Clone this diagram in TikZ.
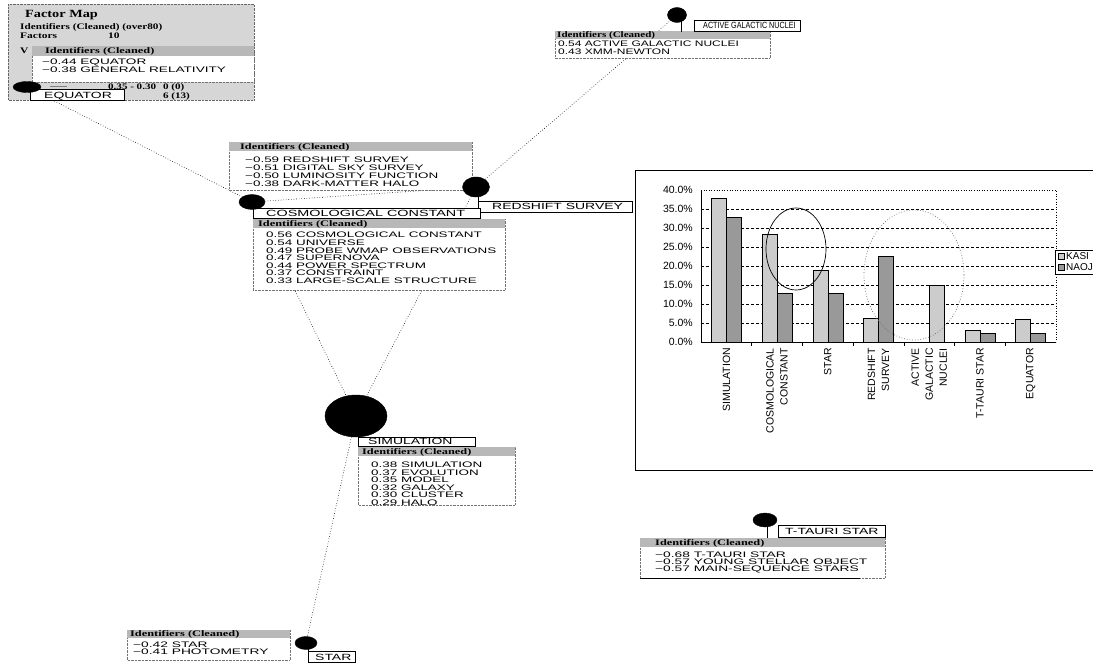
\documentclass[tikz,border=0pt]{standalone}
\usepackage{fontspec}
\setmainfont{Liberation Serif}
\setsansfont{Liberation Sans}
\usepackage{graphicx}
\usetikzlibrary{shapes.geometric}
\pgfdeclarelayer{bg}
\pgfsetlayers{bg,main}
\definecolor{hdrgray}{gray}{0.72}
\definecolor{mapgray}{gray}{0.84}
\definecolor{kasi}{gray}{0.80}
\definecolor{naoj}{gray}{0.60}
\newcommand\idt[3][6.6]{\scalebox{#2}[1]{\fontsize{8}{#1}\selectfont\sffamily\begin{tabular}[t]{@{}l@{}}#3\end{tabular}}}
\newcommand\hdt[2][1.45]{\scalebox{#1}[1]{\fontsize{8.5}{9}\selectfont\rmfamily\bfseries #2}}
\newcommand\lbt[2][1.55]{\scalebox{#1}[1]{\fontsize{9}{10}\selectfont\sffamily #2}}
\begin{document}
\begin{tikzpicture}[x=1pt,y=-1pt,
  conn/.style={dotted, line width=0.6pt},
  blob/.style={ellipse, fill=black, draw=black, inner sep=0pt},
  popbody/.style={fill=white, draw=black!55, densely dotted, line width=0.4pt},
  lframe/.style={fill=white, draw=black, line width=0.6pt},
  stem/.style={line width=0.7pt},
  txt/.style={inner sep=0pt, anchor=base west},
  ylab/.style={font=\fontsize{10.5}{12}\selectfont\sffamily, anchor=east, inner sep=0pt},
  clab/.style={font=\fontsize{10.5}{14}\selectfont\sffamily, rotate=90, anchor=east, align=right, inner sep=0pt},
  gridl/.style={dash pattern=on 3pt off 2pt, line width=0.6pt},
  barbox/.style={draw=black, line width=0.5pt},
  lgd/.style={font=\fontsize{10}{11}\selectfont\sffamily, anchor=west, inner sep=0pt}
]
\useasboundingbox (0,0) rectangle (1093,663);
\begin{pgfonlayer}{bg}
\fill[white] (0,0) rectangle (1093,663);
\end{pgfonlayer}

% ---------------- Factor map panel ----------------
\draw[fill=mapgray, draw=black!60, densely dotted] (8,4) rectangle (254,100);
\node[txt] (fmt) at (25,18) {\hdt[1.3]{\fontsize{11}{12}\selectfont Factor Map}};
\node[txt] (fmi) at (20,30) {\hdt[1.32]{Identifiers (Cleaned) (over80)}};
\node[txt] (fmf) at (20,38.5) {\hdt[1.35]{Factors}};
\node[txt] (fmn) at (108,38.5) {\hdt[1.35]{10}};
\node[txt] (fmv) at (20,54) {\hdt[1.35]{V}};
\draw[popbody] (32,46) rectangle (254,82);
\fill[hdrgray] (32,46) rectangle (254,56);
\node[txt] (fmh) at (45,54) {\hdt{Identifiers (Cleaned)}};
\node[txt] (fmd) at (42,65) {\idt[7]{1.7}{−0.44 EQUATOR\\−0.38 GENERAL RELATIVITY}};
\draw[gray, line width=1pt] (50,87) -- (67,87);
\node[txt] (fmr1) at (108,90) {\hdt[1.3]{0.35 - 0.30}};
\node[txt] (fmr2) at (163,90) {\hdt[1.3]{0 (0)}};
\node[txt] (fmr3) at (163,99) {\hdt[1.3]{6 (13)}};
\draw[lframe] (30,89) rectangle (124,100);
\node[txt] (leq) at (44,98.5) {\lbt{EQUATOR}};
\node[blob, minimum width=28, minimum height=11] (eq) at (27,87) {};

% ---------------- Active galactic nuclei ----------------
\draw[popbody] (555,31) rectangle (770,58);
\fill[hdrgray] (555,31) rectangle (770,39);
\node[txt] (agh) at (557,38) {\hdt[1.3]{Identifiers (Cleaned)}};
\node[txt] (agd) at (558,46.5) {\idt[6.5]{1.5}{0.54 ACTIVE GALACTIC NUCLEI\\0.43 XMM-NEWTON}};
\draw[stem] (681,20) -- (681,32);
\draw[lframe] (694,20) rectangle (800,31);
\node[txt] (lag) at (703,29) {\lbt[0.8]{ACTIVE GALACTIC NUCLEI}};
\node[blob, minimum width=19, minimum height=15] (agn) at (677,15) {};

% ---------------- Redshift survey ----------------
\draw[popbody] (229,142) rectangle (472,190);
\fill[hdrgray] (229,142) rectangle (472,151);
\node[txt] (rsh) at (240,149.5) {\hdt{Identifiers (Cleaned)}};
\node[txt] (rsd) at (245,162.7) {\idt[7.7]{1.68}{−0.59 REDSHIFT SURVEY\\−0.51 DIGITAL SKY SURVEY\\−0.50 LUMINOSITY FUNCTION\\−0.38 DARK-MATTER HALO}};
\draw[stem] (478,195) -- (478,212);
\draw[lframe] (478,201) rectangle (632,212);
\node[txt] (lrs) at (492,210) {\lbt{REDSHIFT SURVEY}};
\node[blob, minimum width=27, minimum height=20] (rs) at (476,187) {};

% ---------------- Cosmological constant ----------------
\draw[popbody] (253,219) rectangle (505,290);
\fill[hdrgray] (253,219) rectangle (505,228);
\node[txt] (cch) at (258,226.5) {\hdt{Identifiers (Cleaned)}};
\node[txt] (ccd) at (266,238) {\idt[6.67]{1.68}{0.56 COSMOLOGICAL CONSTANT\\0.54 UNIVERSE\\0.49 PROBE WMAP OBSERVATIONS\\0.47 SUPERNOVA\\0.44 POWER SPECTRUM\\0.37 CONSTRAINT\\0.33 LARGE-SCALE STRUCTURE}};
\draw[lframe] (253,208) rectangle (480,218);
\node[txt] (lcc) at (266,216.5) {\lbt[1.6]{COSMOLOGICAL CONSTANT}};
\node[blob, minimum width=26, minimum height=15] (cc) at (252,202) {};

% ---------------- Simulation ----------------
\draw[popbody] (358,447) rectangle (515,505);
\fill[hdrgray] (358,447) rectangle (515,456);
\node[txt] (smh) at (362,454.5) {\hdt{Identifiers (Cleaned)}};
\node[txt] (smd) at (371,467.5) {\idt[6.5]{1.68}{0.38 SIMULATION\\0.37 EVOLUTION\\0.35 MODEL\\0.32 GALAXY\\0.30 CLUSTER\\0.29 HALO}};
\draw[lframe] (358,437) rectangle (475,446);
\node[txt] (lsm) at (368,444.5) {\lbt{SIMULATION}};
\node[blob, minimum width=62, minimum height=42] (sim) at (356,416) {};

% ---------------- T-Tauri star ----------------
\draw[popbody] (640,538) rectangle (885,578);
\fill[hdrgray] (640,538) rectangle (885,547);
\draw[line width=0.6pt] (640,578) -- (860,578);
\node[txt] (tth) at (655,545.5) {\hdt{Identifiers (Cleaned)}};
\node[txt] (ttd) at (655,557) {\idt[5.5]{1.72}{−0.68 T-TAURI STAR\\−0.57 YOUNG STELLAR OBJECT\\−0.57 MAIN-SEQUENCE STARS}};
\draw[stem] (767,525) -- (767,538);
\draw[lframe] (778,525) rectangle (885,537);
\node[txt] (ltt) at (785,534.5) {\lbt{T-TAURI STAR}};
\node[blob, minimum width=24, minimum height=14] (tt) at (765,520) {};

% ---------------- Star ----------------
\draw[popbody] (127,630) rectangle (290,660);
\fill[hdrgray] (127,630) rectangle (290,638);
\node[txt] (sth) at (130,636.5) {\hdt{Identifiers (Cleaned)}};
\node[txt] (std) at (133,647) {\idt[6]{1.72}{−0.42 STAR\\−0.41 PHOTOMETRY}};
\draw[stem] (308,648) -- (308,663);
\draw[lframe] (308,651) rectangle (355,662);
\node[txt] (lst) at (315,660) {\lbt{STAR}};
\node[blob, minimum width=22, minimum height=13] (st) at (306,643) {};

% ---------------- Chart ----------------
\draw[line width=0.8pt] (1093,170) -- (635,170) -- (635,470) -- (1093,470);
\foreach \v in {5,10,...,35} \draw[gridl] (701,342-3.8*\v) -- (1056,342-3.8*\v);
\draw[dotted, line width=0.6pt] (701,190) -- (1056,190) -- (1056,342);
\foreach \i/\a/\b in {0/37.8/32.8, 1/28.4/12.8, 2/18.9/12.8, 3/6.2/22.6, 5/3.0/2.3, 6/6.0/2.3} {
  \pgfmathsetmacro\c{726.4+50.7*\i}
  \draw[barbox, fill=kasi] (\c-15,342) rectangle (\c,342-3.8*\a);
  \draw[barbox, fill=naoj] (\c,342) rectangle (\c+15,342-3.8*\b);
}
\draw[barbox, fill=kasi] (929.2,342) rectangle (944.2,285);
\draw[line width=0.7pt] (701,190) -- (701,342) -- (1056,342);
\foreach \k in {1,...,6} \draw[line width=0.6pt] (701+50.7*\k,342) -- (701+50.7*\k,346);
\foreach \v/\t in {0/0.0,5/5.0,10/10.0,15/15.0,20/20.0,25/25.0,30/30.0,35/35.0,40/40.0}
  \node[ylab] (yl\v) at (693,342-3.8*\v) {\t\%};
\node[clab] (c0) at (726.4,348) {SIMULATION};
\node[clab] (c1) at (777.1,348) {COSMOLOGICAL\\CONSTANT};
\node[clab] (c2) at (827.8,348) {STAR};
\node[clab] (c3) at (878.5,348) {REDSHIFT\\SURVEY};
\node[clab] (c4) at (929.2,348) {ACTIVE\\GALACTIC\\NUCLEI};
\node[clab] (c5) at (979.9,348) {T-TAURI STAR};
\node[clab] (c6) at (1030.6,348) {EQUATOR};
\draw[line width=0.7pt] (796,249) ellipse [x radius=30, y radius=41];
\draw[black!60, dotted, line width=0.7pt] (914,275) ellipse [x radius=50, y radius=65];
\draw[fill=white, line width=0.6pt] (1055,250) rectangle (1100,274);
\draw[barbox, fill=kasi] (1058,253) rectangle (1064,259);
\node[lgd] (lk) at (1066,256) {KASI};
\draw[barbox, fill=naoj] (1058,264) rectangle (1064,270);
\node[lgd] (ln) at (1066,267) {NAOJ};

% ---------------- Connectors ----------------
\begin{pgfonlayer}{bg}
\draw[conn] (eq) -- (cc);
\draw[conn] (cc) -- (rs);
\draw[conn] (rs) -- (agn);
\draw[conn] (cc) -- (sim);
\draw[conn] (rs) -- (sim);
\draw[conn] (sim) -- (st);
\end{pgfonlayer}
\end{tikzpicture}
\end{document}
